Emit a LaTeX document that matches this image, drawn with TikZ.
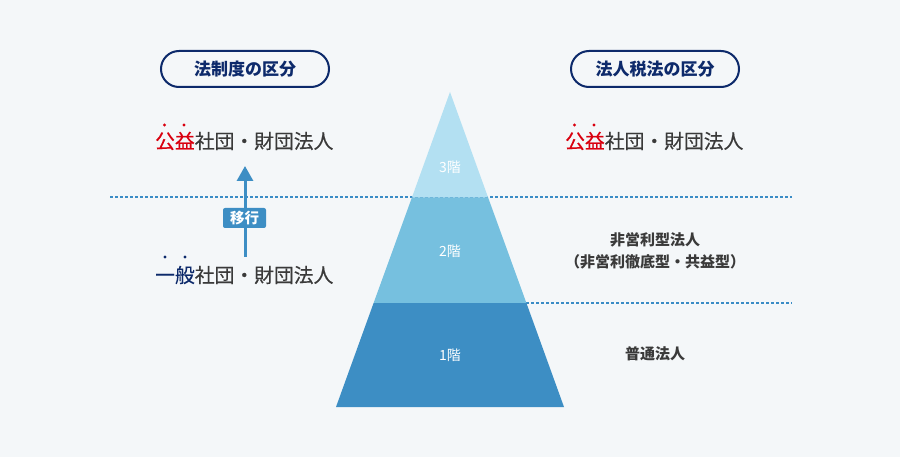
\documentclass[tikz,border=0pt]{standalone}
\usepackage{fontspec}
\setmainfont{Noto Sans CJK JP}
\newfontfamily\jpmed[FakeBold=0.35]{Noto Sans CJK JP}
\usetikzlibrary{arrows.meta}
\definecolor{bg}{HTML}{F4F7F9}
\definecolor{navy}{HTML}{0D2A6B}
\definecolor{emred}{HTML}{D9000F}
\definecolor{txt}{HTML}{3A3A3A}
\definecolor{lay1}{HTML}{3D8EC4}
\definecolor{lay2}{HTML}{76C0DF}
\definecolor{lay3}{HTML}{B3E0F2}
\definecolor{dashc}{HTML}{3A8CC6}
\tikzset{
  pill/.style={draw=navy, line width=2pt, rounded corners=18pt, minimum width=168pt, minimum height=36pt, fill=bg, text=navy, font=\fontsize{17}{18}\selectfont\bfseries, inner sep=0pt},
  bigtxt/.style={text=txt, font=\fontsize{19.8}{22}\selectfont\jpmed, inner sep=0pt, anchor=west},
  sidetxt/.style={text=txt, font=\fontsize{15}{22}\selectfont\bfseries, inner sep=0pt, align=center},
  laytxt/.style={text=white, font=\fontsize{14}{16}\selectfont, inner sep=0pt},
  dotline/.style={dashc, line width=1.4pt, dash pattern=on 3pt off 2pt},
  tag/.style={fill=lay1, rounded corners=2pt, text=white, font=\fontsize{14.5}{16}\selectfont\bfseries, minimum width=43pt, minimum height=20pt, inner sep=0pt},
  migarrow/.style={lay1, line width=3pt, -{Triangle[width=16pt,length=15pt]}},
}
\begin{document}
\begin{tikzpicture}[x=1pt,y=-1pt]
\useasboundingbox[fill=bg] (0,0) rectangle (900,457);

% dashed separators
\coordinate (d1a) at (110,197);
\coordinate (d1b) at (792,197);
\coordinate (d2a) at (526,303);
\coordinate (d2b) at (792,303);
\draw[dotline] (d1a) -- (d1b);
\draw[dotline] (d2a) -- (d2b);

% pyramid
\coordinate (apex) at (450,92);
\coordinate (l3) at (411.9,197.5);
\coordinate (r3) at (488.1,197.5);
\coordinate (l2) at (373.6,303);
\coordinate (r2) at (526.4,303);
\coordinate (l1) at (336,407);
\coordinate (r1) at (564,407);
\fill[lay3] (apex) -- (r3) -- (l3) -- cycle;
\fill[lay2] (l3) -- (r3) -- (r2) -- (l2) -- cycle;
\fill[lay1] (l2) -- (r2) -- (r1) -- (l1) -- cycle;
\node[laytxt] (f3) at (450,167) {3階};
\node[laytxt] (f2) at (450,251) {2階};
\node[laytxt] (f1) at (450,355) {1階};

% headings
\node[pill] (hl) at (245,69) {法制度の区分};
\node[pill] (hr) at (655,69) {法人税法の区分};

% left column
\node[bigtxt] (lk) at (155,141) {\textcolor{emred}{公益}社団・財団法人};
\node[bigtxt] (li) at (155,275) {\textcolor{navy}{一般}社団・財団法人};
\fill[emred] ([xshift=9.5pt,yshift=16pt]lk.west) circle (1.7pt);
\fill[emred] ([xshift=29pt,yshift=16pt]lk.west) circle (1.7pt);
\fill[navy] ([xshift=10pt,yshift=18pt]li.west) circle (1.7pt);
\fill[navy] ([xshift=30pt,yshift=18pt]li.west) circle (1.7pt);

\coordinate (arrS) at (245,257);
\coordinate (arrE) at (245,166);
\draw[migarrow] (arrS) -- (arrE);
\node[tag] (mig) at (244.5,218) {移行};

% right column
\node[bigtxt] (rk) at (565,141) {\textcolor{emred}{公益}社団・財団法人};
\fill[emred] ([xshift=9.5pt,yshift=16pt]rk.west) circle (1.7pt);
\fill[emred] ([xshift=29pt,yshift=16pt]rk.west) circle (1.7pt);
\node[sidetxt] (nr) at (655,240) {非営利型法人};
\node[sidetxt] (nr2) at (655,262) {（非営利徹底型・共益型）};
\node[sidetxt] (fu) at (655,354) {普通法人};
\end{tikzpicture}
\end{document}
